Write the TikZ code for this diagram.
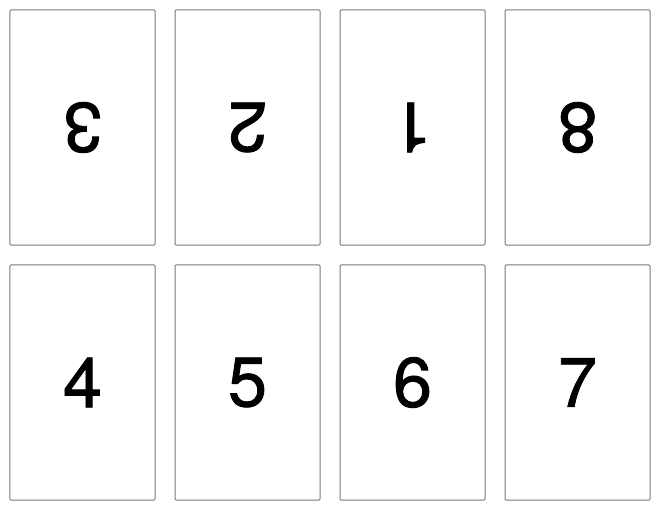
\documentclass[tikz,border=0pt]{standalone}
\usepackage{fontspec}
\setmainfont{TeX Gyre Heros}
\newfontfamily\cardfont{TeX Gyre Heros}[FakeBold=1.2]
\definecolor{edgegray}{RGB}{120,120,120}
\begin{document}
\begin{tikzpicture}[x=1bp,y=-1bp,
  card/.style={draw=edgegray,line width=1bp,rounded corners=1bp,minimum width=145bp,minimum height=235bp,inner sep=0pt,font=\cardfont\fontsize{70bp}{70bp}\selectfont,text=black},
  flipped/.style={card,rotate=180}]
\useasboundingbox (0,0) rectangle (660,510);
\node[flipped] (c3) at (82.5,127.5) {3};
\node[flipped] (c2) at (247.5,127.5) {2};
\node[flipped] (c1) at (412.5,127.5) {1};
\node[flipped] (c8) at (577.5,127.5) {8};
\node[card] (c4) at (82.5,382.5) {4};
\node[card] (c5) at (247.5,382.5) {5};
\node[card] (c6) at (412.5,382.5) {6};
\node[card] (c7) at (577.5,382.5) {7};
\end{tikzpicture}
\end{document}
